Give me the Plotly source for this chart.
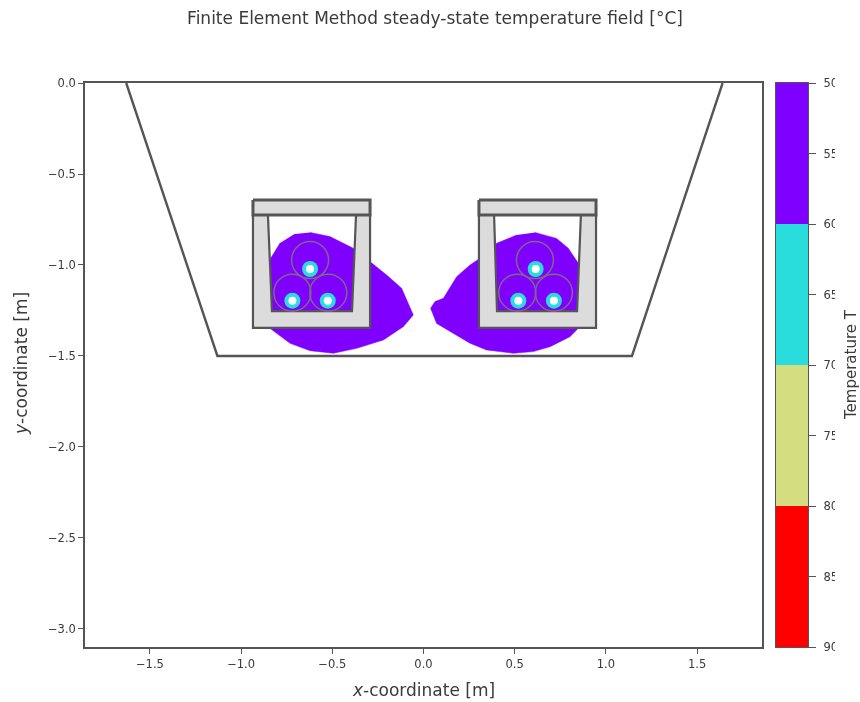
import plotly.graph_objects as go

# --- values (metres / degrees C) ---
trench_x = [-1.63, -1.13, 1.143, 1.64]
trench_y = [0.0, -1.5, -1.5, 0.0]

blob_left_x = [-0.622, -0.513, -0.385, -0.293, -0.202, -0.120, -0.056, -0.111, -0.220, -0.366, -0.494,
               -0.622, -0.732, -0.842, -0.838, -0.787, -0.705]
blob_left_y = [-0.821, -0.844, -0.908, -0.982, -1.055, -1.128, -1.275, -1.339, -1.412, -1.458, -1.485,
               -1.471, -1.430, -1.348, -0.963, -0.881, -0.830]
blob_right_x = [0.611, 0.730, 0.794, 0.849, 0.849, 0.803, 0.694, 0.602, 0.493, 0.346, 0.255, 0.164,
                0.072, 0.039, 0.063, 0.109, 0.182, 0.255, 0.310, 0.401, 0.511]
blob_right_y = [-0.821, -0.854, -0.908, -0.991, -1.348, -1.394, -1.449, -1.476, -1.485, -1.467, -1.430,
                -1.375, -1.321, -1.238, -1.201, -1.183, -1.064, -1.000, -0.963, -0.881, -0.835]

# trough: U-shaped wall and lid
wall_left_x = [-0.935, -0.853, -0.831, -0.392, -0.370, -0.293, -0.293, -0.935, -0.935]
wall_right_x = [0.304, 0.387, 0.403, 0.842, 0.863, 0.946, 0.946, 0.304, 0.304]
wall_y = [-0.725, -0.725, -1.253, -1.253, -0.725, -0.725, -1.346, -1.346, -0.725]
lid_left_x = [-0.935, -0.293, -0.293, -0.935, -0.935]
lid_right_x = [0.304, 0.946, 0.946, 0.304, 0.304]
lid_y = [-0.643, -0.643, -0.725, -0.725, -0.643]

cable_x = [-0.622, -0.719, -0.522, 0.611, 0.514, 0.715]
cable_y = [-0.973, -1.152, -1.152, -0.973, -1.152, -1.152]
core_x = [-0.622, -0.719, -0.525, 0.615, 0.520, 0.715]
core_y = [-1.022, -1.196, -1.196, -1.022, -1.196, -1.196]

band_start = [50, 60, 70, 80]
band_width = [10, 10, 10, 10]
band_colors = ["#7f00ff", "#2adddd", "#d4dd80", "#ff0000"]
cbar_ticks = [50, 55, 60, 65, 70, 75, 80, 85, 90]
x_ticks = [-1.5, -1.0, -0.5, 0.0, 0.5, 1.0, 1.5]
y_ticks = [0.0, -0.5, -1.0, -1.5, -2.0, -2.5, -3.0]

TXT = "#3a3a3a"
LINE = "#555555"
FONT = "DejaVu Sans"
W, H = 860, 702
L, R, T, B = 85, 808, 83, 647

fig = go.Figure()


def poly(x, y, fill, line=None, width=0):
    fig.add_trace(go.Scatter(x=x, y=y, mode="lines", fill="toself", fillcolor=fill,
                             line=dict(color=line or fill, width=width), hoverinfo="skip"))


poly(blob_left_x, blob_left_y, band_colors[0], width=0.5)
poly(blob_right_x, blob_right_y, band_colors[0], width=0.5)
for wx, lx in ((wall_left_x, lid_left_x), (wall_right_x, lid_right_x)):
    poly(wx, wall_y, "#dcdcdc", LINE, 2.2)
    poly(lx, lid_y, "#dcdcdc", LINE, 3)

fig.add_trace(go.Scatter(x=trench_x, y=trench_y, mode="lines", line=dict(color=LINE, width=2.4), hoverinfo="skip"))
fig.add_trace(go.Scatter(x=cable_x, y=cable_y, mode="markers", hoverinfo="skip",
                         marker=dict(size=37, color="rgba(0,0,0,0)", line=dict(color="#7d6a82", width=1.5))))
fig.add_trace(go.Scatter(x=core_x, y=core_y, mode="markers", hoverinfo="skip",
                         marker=dict(size=16, color=band_colors[1], line=dict(width=0))))
fig.add_trace(go.Scatter(x=core_x, y=core_y, mode="markers", hoverinfo="skip",
                         marker=dict(size=8, color="white", line=dict(width=0))))

fig.add_trace(go.Bar(x=[0, 0, 0, 0], y=band_width, base=band_start, width=1, marker=dict(color=band_colors, line=dict(width=0)),
                     xaxis="x2", yaxis="y2", hoverinfo="skip"))

plot_w = R - L
plot_h = B - T
axis_common = dict(showgrid=False, zeroline=False, showline=True, linecolor=LINE, linewidth=1.6, mirror=True,
                   ticks="outside", ticklen=5, tickcolor=LINE, tickwidth=1.2, automargin=False,
                   tickfont=dict(family=FONT, size=11.5, color=TXT), tickformat=".1f")


def note(text, px, py, size, angle=0):
    return dict(text=text, xref="paper", yref="paper", x=(px - L) / plot_w, y=1 - (py - T) / plot_h, showarrow=False,
                textangle=angle, xanchor="center", yanchor="middle", font=dict(family=FONT, size=size, color=TXT))


fig.update_layout(
    width=W, height=H, autosize=False, showlegend=False, plot_bgcolor="white", paper_bgcolor="white",
    margin=dict(l=L, r=W - R, t=T, b=H - B, pad=0),
    title=dict(text="Finite Element Method steady-state temperature field [°C]",
               x=435 / W, xanchor="center", y=1 - 18 / H, yanchor="middle",
               font=dict(family=FONT, size=17, color=TXT)),
    xaxis=dict(axis_common, domain=[0, (762 - L) / plot_w], range=[-1.856, 1.856], tickvals=x_ticks),
    yaxis=dict(axis_common, range=[-3.099, 0], tickvals=y_ticks),
    xaxis2=dict(domain=[(776 - L) / plot_w, 1], range=[-0.5, 0.5], showticklabels=False, ticks="", showgrid=False,
                zeroline=False, showline=True, linecolor=LINE, linewidth=1.4, mirror=True, anchor="y2"),
    yaxis2=dict(domain=[0, 1], range=[90, 50], anchor="x2", side="right", tickvals=cbar_ticks, ticks="outside",
                ticklen=7, tickcolor=LINE, tickwidth=1.2, showgrid=False, zeroline=False, automargin=False,
                showline=True, linecolor=LINE, linewidth=1.4, mirror=True, ticklabelstandoff=5,
                tickfont=dict(family=FONT, size=11.5, color=TXT)),
    shapes=[dict(type="rect", xref="paper", yref="paper", layer="above", x0=(835 - L) / plot_w, x1=(845 - L) / plot_w,
                 y0=-0.02, y1=1.02, fillcolor="white", line=dict(width=0))],
    annotations=[note("<i>x</i>-coordinate [m]", 423, 690, 17),
                 note("<i>y</i>-coordinate [m]", 21, 364, 17, -90),
                 note("Temperature T", 851, 365, 15, -90)],
)

fig.write_html("out.html", config={"displayModeBar": False},
               post_script="document.body.style.margin='0';document.body.style.filter='blur(0.5px)';")
